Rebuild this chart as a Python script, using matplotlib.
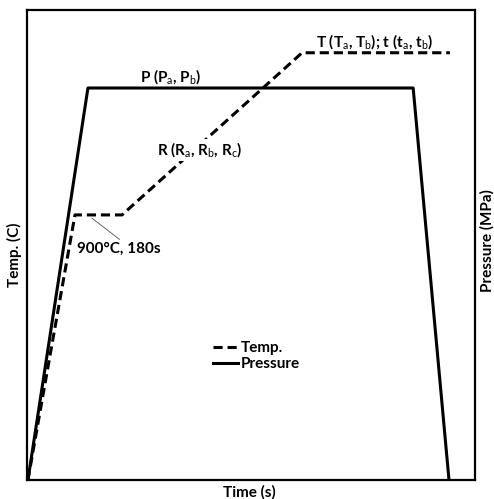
import matplotlib.pyplot as plt

plt.rcParams['font.family'] = ['Lato', 'DejaVu Sans']
plt.rcParams['mathtext.fontset'] = 'custom'
plt.rcParams['mathtext.rm'] = 'Lato'
plt.rcParams['mathtext.it'] = 'Lato'
plt.rcParams['mathtext.bf'] = 'Lato:bold'

# schematic profiles (arbitrary units, 0-100)
pressure_t = [0.2, 13.6, 86.2, 94.2]
pressure_v = [0, 83.4, 83.4, 0]
temp_t = [0.2, 10.7, 21.2, 61.4, 94.4]
temp_v = [0, 56.4, 56.4, 90.9, 90.9]

fs = 11

fig = plt.figure(figsize=(4.94, 4.99), dpi=100)
ax = fig.add_axes([0.0547, 0.038, 0.9068, 0.942])

ax.plot(temp_t, temp_v, 'k--', lw=2.2, dashes=(3, 1.6), label='Temp.')
ax.plot(pressure_t, pressure_v, 'k-', lw=2.2, label='Pressure')

ax.set_xlim(0, 100)
ax.set_ylim(0, 100)
ax.set_xticks([])
ax.set_yticks([])
for s in ax.spines.values():
    s.set_linewidth(1.6)

# annotations
ax.text(25.2, 85.9, 'P (P$_a$, P$_b$)', fontsize=fs, fontweight='bold', va='center')
ax.text(64.5, 93.2, 'T (T$_a$, T$_b$); t (t$_a$, t$_b$)', fontsize=fs, fontweight='bold', va='center')
ax.text(29.0, 70.2, 'R (R$_a$, R$_b$, R$_c$)', fontsize=fs, fontweight='bold', va='center',
        bbox=dict(facecolor='white', edgecolor='none', pad=1), zorder=5)
ax.annotate('900°C, 180s', xy=(14.5, 55.7), xytext=(11.2, 49.1), fontsize=fs,
            fontweight='bold', va='center',
            arrowprops=dict(arrowstyle='-', color='0.4', lw=0.7,
                            shrinkA=0, shrinkB=0, relpos=(0.55, 1.0)))

ax.legend(loc='upper left', bbox_to_anchor=(0.385, 0.325), frameon=False,
          handlelength=1.6, handletextpad=0.2, labelspacing=0.15,
          prop={'weight': 'bold', 'size': fs})

# axis labels
ax.text(-0.027, 0.48, 'Temp. (C)', transform=ax.transAxes, rotation=90,
        ha='center', va='center', fontsize=fs, fontweight='bold')
ax.text(1.027, 0.51, 'Pressure (MPa)', transform=ax.transAxes, rotation=90,
        ha='center', va='center', fontsize=fs, fontweight='bold')
ax.text(0.497, -0.026, 'Time (s)', transform=ax.transAxes,
        ha='center', va='center', fontsize=fs, fontweight='bold')

fig.savefig('out.png', dpi=100)
